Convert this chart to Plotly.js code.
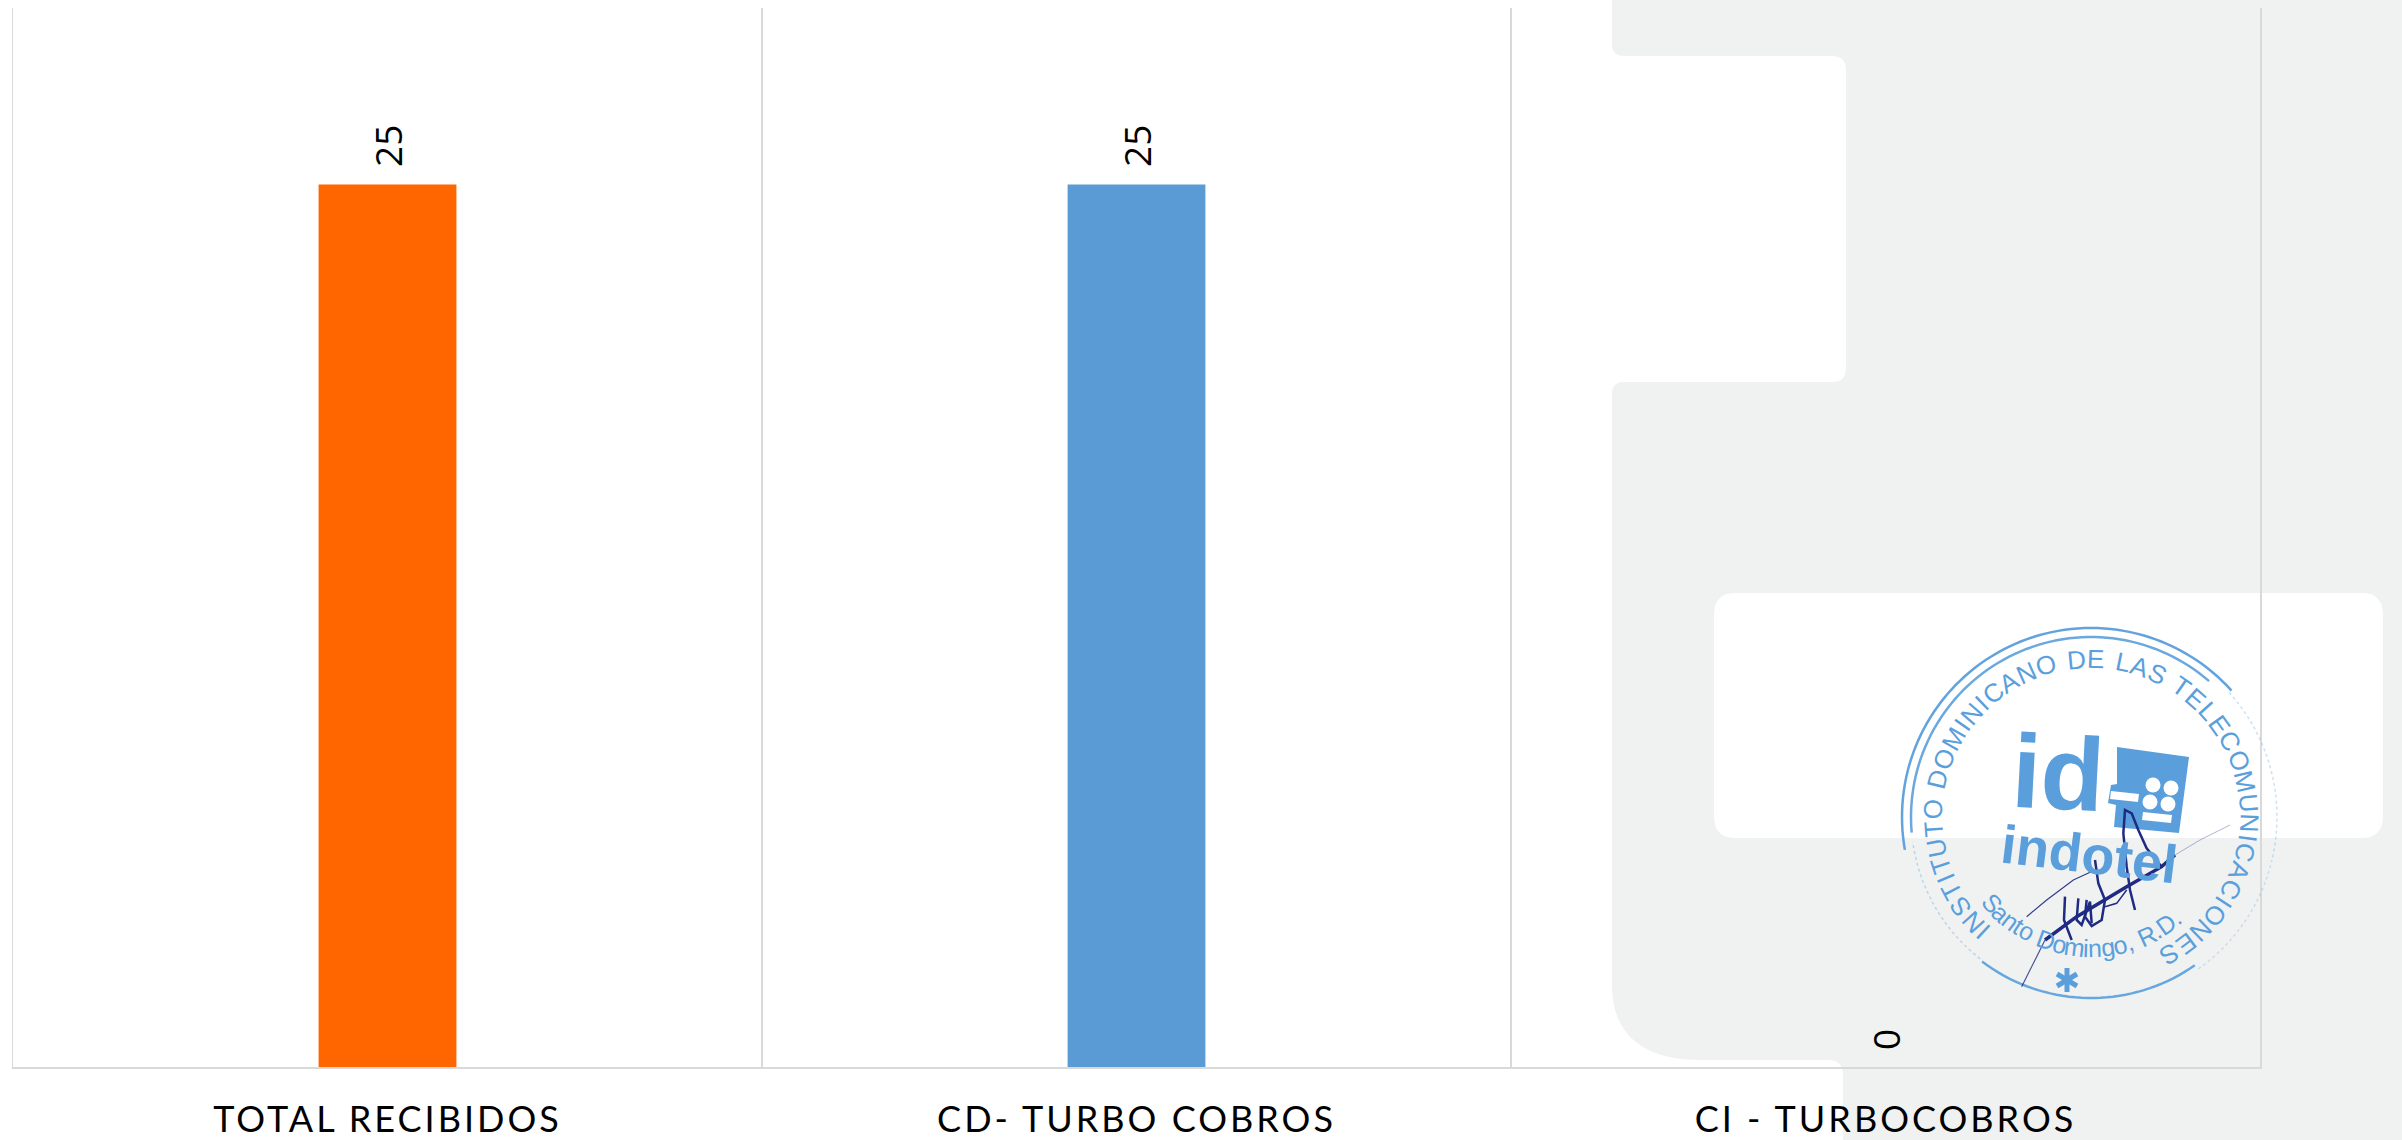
<!DOCTYPE html>
<html><head><meta charset="utf-8">
<script src="https://cdn.plot.ly/plotly-3.0.1.min.js"></script>
<style>
html,body{margin:0;padding:0;background:#fff}
#chart{width:2402px;height:1140px}
.xtick text{letter-spacing:3px}
</style></head><body><div id="chart"></div>
<script>
// chart data
const categories = ["TOTAL RECIBIDOS", "CD- TURBO COBROS", "CI - TURBOCOBROS"];
const values = [25, 25, 0];
const barColors = ["#FF6600", "#5B9BD5", "#A5A5A5"];
// stamp wording
const stampRing = "INSTITUTO DOMINICANO DE LAS TELECOMUNICACIONES";
const stampCity = "Santo Domingo, R.D.";

const W = 2402, H = 1140, L = 13, R = 2260, T = 8, B = 1067;
const X = x => (x - L) / (R - L);
const Y = y => 1 - (y - T) / (B - T);
const path = (cmds) => cmds.map(c => c[0] + ' ' + c.slice(1).map((v, i) => (i % 2 ? Y(v) : X(v)).toFixed(5)).join(' ')).join(' ');
const poly = pts => pts.map((p, i) => (i ? 'L ' : 'M ') + X(p[0]).toFixed(5) + ' ' + Y(p[1]).toFixed(5)).join(' ');
const shp = (d, o) => Object.assign({type:'path', xref:'paper', yref:'paper', path:d, layer:'above', line:{width:0}}, o);

// page background artwork
const greyD = path([['M',1612,-10],['L',1612,44],['Q',1612,56,1624,56],['L',1832,56],['Q',1846,56,1846,70],['L',1846,368],['Q',1846,382,1832,382],['L',1624,382],['Q',1612,382,1612,394],['L',1612,985],['C',1612,1040,1650,1060,1700,1060],['L',1828,1060],['Q',1843,1060,1843,1075],['L',1843,1150],['L',2412,1150],['L',2412,-10]]) + ' Z';
const whiteD = path([['M',1736,593],['L',2361,593],['Q',2383,593,2383,615],['L',2383,816],['Q',2383,838,2361,838],['L',1736,838],['Q',1714,838,1714,816],['L',1714,615],['Q',1714,593,1736,593]]) + ' Z';
const shapes = [
  shp(greyD, {layer:'below', fillcolor:'#F0F2F2'}),
  shp(whiteD, {layer:'below', fillcolor:'#FFFFFF'})
];

// stamp
const CX = 2091, CY = 817, STAMP = '#5A9FDC', INK = '#1F2A82';
const polar = (r, deg) => [CX + r * Math.sin(deg * Math.PI / 180), CY - r * Math.cos(deg * Math.PI / 180)];
const arc = (r, a, b) => { const p = []; for (let d = a; d <= b; d += 2) p.push(polar(r, d)); return poly(p); };
const ringLine = (r, a, b, w, op, dash) => shp(arc(r, a, b), {line:{color:STAMP, width:w, dash:dash || 'solid'}, opacity:op});
shapes.push(
  ringLine(189, -100, 48, 2.5, 0.95),
  ringLine(180, -95, 42, 2.5, 0.9),
  ringLine(186, 48, 105, 1.5, 0.3, 'dot'),
  ringLine(181, 145, 218, 2.5, 0.9),
  ringLine(180, 218, 262, 1.5, 0.35, 'dot'),
  ringLine(186, 105, 145, 1.5, 0.25, 'dot')
);
// keypad block of the logo
shapes.push(shp(poly([[2117,747],[2189,757],[2179,833],[2114,827],[2116,805],[2108,803],[2111,785],[2117,784]]) + ' Z', {fillcolor:STAMP}));
shapes.push(shp(poly([[2111,791],[2139,794],[2138,802],[2110,799]]) + ' Z', {fillcolor:'#FFFFFF'}));
shapes.push(shp(poly([[2143,812],[2172,815],[2171,823],[2142,820]]) + ' Z', {fillcolor:'#FFFFFF'}));
[[2153,785],[2171,788],[2150,802],[2168,804]].forEach(c => {
  shapes.push({type:'circle', xref:'paper', yref:'paper', x0:X(c[0]-7.5), x1:X(c[0]+7.5), y0:Y(c[1]+7.5), y1:Y(c[1]-7.5), fillcolor:'#FFFFFF', line:{width:0}, layer:'above'});
});
// star
[[2067,968,2067,992],[2057,974,2077,986],[2057,986,2077,974]].forEach(s => {
  shapes.push(shp(poly([[s[0],s[1]],[s[2],s[3]]]), {line:{color:STAMP, width:5}}));
});

const annotations = [];
const cf = {family:'"Open Sans", sans-serif', size:37, color:'#000000'};
categories.forEach((c, i) => annotations.push({
  x:c, y:values[i], xref:'x', yref:'y', text:String(values[i]), showarrow:false,
  textangle:-90, xanchor:'center', yanchor:'bottom', yshift:15, font:cf
}));
const charAnn = (ch, p, ang, size, color, bold) => annotations.push({
  xref:'paper', yref:'paper', x:X(p[0]), y:Y(p[1]), text:bold ? '<b>' + ch + '</b>' : ch, showarrow:false,
  textangle:ang, xanchor:'center', yanchor:'middle',
  font:{family:'"Liberation Sans", sans-serif', size:size, color:color}
});
// lay stamp letters out by their own widths so narrow and wide letters get even gaps
const ctx = document.createElement('canvas').getContext('2d');
const layout1 = (text, size, a0, a1, place) => {
  ctx.font = size + 'px "Liberation Sans"';
  const chars = Array.from(text), w = chars.map(c => ctx.measureText(c).width + size * 0.12);
  const total = w.reduce((s, v) => s + v, 0) - w[0] / 2 - w[w.length - 1] / 2;
  let run = 0;
  chars.forEach((ch, i) => {
    if (i) run += (w[i - 1] + w[i]) / 2;
    if (ch !== ' ') place(ch, a0 + (a1 - a0) * run / total);
  });
};
layout1(stampRing, 26, -137, 150, (ch, a) => charAnn(ch, polar(158, a), a, 26, STAMP, false));
layout1(stampCity, 25, -49, 40, (ch, phi) => {
  const rad = phi * Math.PI / 180;
  charAnn(ch, [CX + 131 * Math.sin(rad), CY + 131 * Math.cos(rad)], -phi, 25, STAMP, false);
});
charAnn('id', [2058, 773], 3, 104, STAMP, true);
charAnn('indotel', [2089, 854], 7, 54, STAMP, true);

// signature
const sig = (pts, w, op) => shapes.push(shp(poly(pts.map(p => [1860 + p[0] / 3, 600 + p[1] / 3])), {line:{color:INK, width:w, shape:'linear'}, opacity:op === undefined ? 1 : op}));
sig([[555,1020],[650,950],[800,860],[905,800],[945,765]], 3.5);
sig([[945,765],[1020,720],[1110,675]], 1, 0.35);
sig([[485,1160],[530,1070],[555,1020]], 1.2, 0.8);
sig([[905,800],[860,745],[835,690],[815,640],[795,630],[790,700],[800,800],[810,870],[825,930]], 2.5);
sig([[500,950],[560,900],[640,840],[705,810]], 1.2, 0.9);
sig([[705,780],[715,850],[735,900],[725,960],[695,978],[675,950],[680,900]], 2.5);
sig([[615,890],[612,960],[635,1020]], 2.5);
sig([[655,895],[650,960],[665,975],[690,905],[695,970]], 2.5);
sig([[735,920],[770,910],[800,870]], 1.5);

Plotly.newPlot('chart', [{
  type:'bar', x:categories, y:values, width:0.184,
  marker:{color:barColors, line:{width:0}}, hoverinfo:'x+y'
}], {
  width:W, height:H, showlegend:false,
  margin:{l:L, r:W - R, t:T, b:H - B, pad:0},
  paper_bgcolor:'#FFFFFF', plot_bgcolor:'rgba(0,0,0,0)',
  font:{family:'"Open Sans", sans-serif', color:'#000000'},
  xaxis:{type:'category', range:[-0.5, 2.5], tickson:'boundaries', ticks:'', showgrid:true, gridcolor:'#D9D9D9', gridwidth:1.5,
    showline:true, linecolor:'#D9D9D9', linewidth:2, zeroline:false, tickangle:0, ticklabelstandoff:20,
    tickfont:{family:'Lato, sans-serif', size:36, color:'#000000'}},
  yaxis:{range:[0, 30], showgrid:false, showticklabels:false, ticks:'', zeroline:false, showline:true, mirror:true, linecolor:'#D9D9D9', linewidth:1.5},
  shapes:shapes, annotations:annotations
}, {displayModeBar:false, staticPlot:true});
</script></body></html>
